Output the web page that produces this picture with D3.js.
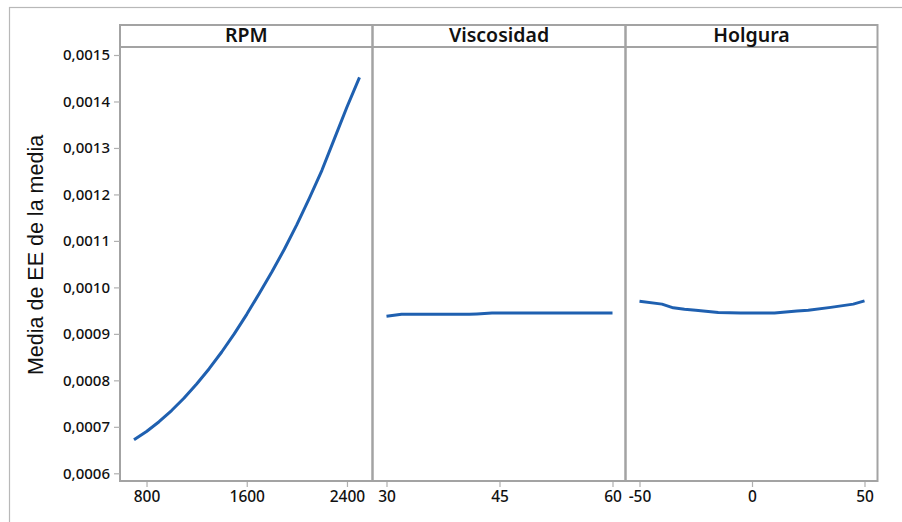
<!DOCTYPE html>
<html>
<head>
<meta charset="utf-8">
<script src="https://cdn.jsdelivr.net/npm/d3@7"></script>
<style>
  html, body { margin: 0; padding: 0; background: #ffffff; }
  svg { display: block; }
</style>
</head>
<body>
<svg id="chart" width="902" height="522"></svg>
<script>
// ---- data ----
const panelNames = ["RPM", "Viscosidad", "Holgura"];
const yTickValues = [0.0006, 0.0007, 0.0008, 0.0009, 0.0010, 0.0011, 0.0012, 0.0013, 0.0014, 0.0015];
const yTitle = "Media de EE de la media";

const rpmLevels = [700, 800, 900, 1000, 1100, 1200, 1300, 1400, 1500, 1600, 1700, 1800, 1900, 2000, 2100, 2200, 2300, 2400, 2500];
const rpmMeans  = [0.000672, 0.000690, 0.000711, 0.000735, 0.000762, 0.000792, 0.000825, 0.000861, 0.000900, 0.000942, 0.000987, 0.001033, 0.001082, 0.001135, 0.001192, 0.001252, 0.001320, 0.001388, 0.001452];
const rpmTicks  = [800, 1600, 2400];

const viscLevels = [30, 32, 35, 38, 41, 42, 44, 47, 50, 53, 56, 60];
const viscMeans  = [0.000938, 0.000942, 0.000942, 0.000942, 0.000942, 0.000943, 0.000945, 0.000945, 0.000945, 0.000945, 0.000945, 0.000945];
const viscTicks  = [30, 45, 60];

const holgLevels = [-50, -40, -35, -30, -25, -15, -5, 10, 20, 25, 35, 45, 50];
const holgMeans  = [0.000970, 0.000964, 0.000956, 0.000953, 0.000951, 0.000946, 0.000945, 0.000945, 0.000949, 0.000951, 0.000957, 0.000964, 0.000971];
const holgTicks  = [-50, 0, 50];

// ---- layout ----
const svg = d3.select("#chart");
const gridColor = "#a3a3a3";
const lineColor = "#1f60b0";
const stripTop = 25, stripBottom = 47, plotBottom = 481;
const panelEdges = [120, 372.5, 625.5, 877.5];
const padL = 14, padR = 13;

// outer frame
svg.append("rect")
  .attr("x", 9.5).attr("y", 7.5).attr("width", 1000).attr("height", 1000)
  .attr("fill", "none").attr("stroke", "#b8b8b8").attr("stroke-width", 1.2);

const y = d3.scaleLinear().domain([0.0006, 0.0015]).range([473.3, 55]);
const fmt = v => d3.format(".4f")(v).replace(".", ",");

const panels = [
  { name: panelNames[0], levels: rpmLevels, means: rpmMeans, ticks: rpmTicks },
  { name: panelNames[1], levels: viscLevels, means: viscMeans, ticks: viscTicks },
  { name: panelNames[2], levels: holgLevels, means: holgMeans, ticks: holgTicks }
];

panels.forEach((p, i) => {
  const x0 = panelEdges[i], x1 = panelEdges[i + 1];
  const x = d3.scaleLinear().domain(d3.extent(p.levels)).range([x0 + padL, x1 - padR]);
  const g = svg.append("g");

  // x axis
  const xa = g.append("g").attr("transform", `translate(0,${plotBottom})`)
    .call(d3.axisBottom(x).tickValues(p.ticks).tickSize(6).tickPadding(4).tickFormat(d => String(d)));
  xa.select(".domain").remove();
  xa.selectAll(".tick line").attr("stroke", "#b0b0b0").attr("stroke-width", 1.2);
  xa.selectAll(".tick text").attr("fill", "#111").attr("font-family", "'Noto Sans', sans-serif")
    .attr("font-size", "15.5px").attr("font-weight", 500);

  // line
  const line = d3.line().x((d, k) => x(p.levels[k])).y(d => y(d));
  g.append("path").datum(p.means).attr("d", line)
    .attr("fill", "none").attr("stroke", lineColor).attr("stroke-width", 3)
    .attr("stroke-linejoin", "round").attr("stroke-linecap", "butt");

  // panel border
  g.append("rect").attr("x", x0).attr("y", stripTop).attr("width", x1 - x0).attr("height", plotBottom - stripTop)
    .attr("fill", "none").attr("stroke", gridColor).attr("stroke-width", 2);
  g.append("line").attr("x1", x0).attr("x2", x1).attr("y1", stripBottom).attr("y2", stripBottom)
    .attr("stroke", gridColor).attr("stroke-width", 2);

  // strip label
  g.append("text").attr("x", (x0 + x1) / 2).attr("y", stripBottom - 5.5)
    .attr("text-anchor", "middle").attr("font-family", "'Noto Sans', sans-serif")
    .attr("font-size", "19.5px").attr("font-weight", 600).attr("fill", "#111").text(p.name);
});

// y axis
const ya = svg.append("g").attr("transform", `translate(${panelEdges[0]},0)`)
  .call(d3.axisLeft(y).tickValues(yTickValues).tickSize(6).tickPadding(4).tickFormat(fmt));
ya.select(".domain").remove();
ya.selectAll(".tick line").attr("stroke", "#b0b0b0").attr("stroke-width", 1.2);
ya.selectAll(".tick text").attr("fill", "#111").attr("font-family", "'Noto Sans', sans-serif")
  .attr("font-size", "15px").attr("font-weight", 500);

// y title
svg.append("text")
  .attr("transform", "translate(43,255) rotate(-90)")
  .attr("text-anchor", "middle")
  .attr("font-family", "'Liberation Sans', Arial, sans-serif")
  .attr("font-size", "21.5px").attr("fill", "#111").text(yTitle);
</script>
</body>
</html>
